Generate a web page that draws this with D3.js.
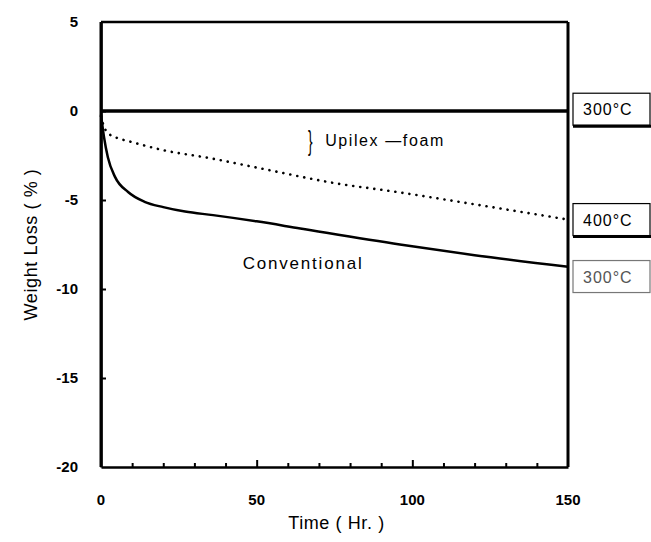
<!DOCTYPE html>
<html lang="en">
<head>
    <meta charset="UTF-8">
    <title>Weight Loss vs Time</title>
    <script src="https://cdn.jsdelivr.net/npm/d3@7/dist/d3.min.js"></script>
    <style>
        body{
            margin: 0;
            background: white;
            font-family: "Liberation Sans", Arial, sans-serif;
        }
        .tickLabel{
            font-size: 15px;
            font-weight: bold;
        }
        .axis path{
            stroke: black;
            stroke-width: 2.5;
        }
        .axis .tick line{
            stroke: black;
            stroke-width: 2;
        }
    </style>
</head>
<body>
<svg id="main" width="651" height="542"></svg>
<script>
    const width = 651, height = 542;
    const margin = {top: 22, bottom: 75, left: 101, right: 83};

    // data
    const xTicks = [0, 50, 100, 150];
    const yTicks = [5, 0, -5, -10, -15, -20];
    const upilex300Time = [0, 150];
    const upilex300Loss = [0, 0];
    const upilex400Time = [0, 1, 2, 5, 9, 20, 35, 52, 75, 95, 122, 150];
    const upilex400Loss = [-0.3, -0.9, -1.2, -1.5, -1.7, -2.2, -2.65, -3.25, -4.05, -4.55, -5.3, -6.1];
    const convTime = [0, 1, 2.2, 4.5, 8.7, 14, 20, 27, 36, 50, 64, 96, 120, 150];
    const convLoss = [-0.2, -1.5, -2.6, -3.7, -4.55, -5.1, -5.4, -5.65, -5.85, -6.2, -6.6, -7.5, -8.1, -8.75];
    const boxLabels = [
        {text: "300°C", y: 0.1},
        {text: "400°C", y: -6.1},
        {text: "300°C", y: -9.3}
    ];

    const svg = d3.select("svg#main");

    const xScale = d3.scaleLinear()
        .domain([0, 150])
        .range([margin.left, width - margin.right]);
    const yScale = d3.scaleLinear()
        .domain([-20, 5])
        .range([height - margin.bottom, margin.top]);

    // frame: top and right borders
    svg.append("line")
        .attr("x1", xScale(0)).attr("x2", xScale(150))
        .attr("y1", yScale(5)).attr("y2", yScale(5))
        .attr("stroke", "black").attr("stroke-width", 2.5);
    svg.append("line")
        .attr("x1", xScale(150)).attr("x2", xScale(150))
        .attr("y1", yScale(5)).attr("y2", yScale(-20))
        .attr("stroke", "black").attr("stroke-width", 3);

    // minor ticks inward along bottom
    const xAxis = d3.axisBottom(xScale)
        .tickValues(d3.range(10, 150, 10))
        .tickSizeInner(-4).tickSizeOuter(0)
        .tickFormat("");
    const xAxisGroup = svg.append("g")
        .attr("class", "axis")
        .attr("transform", `translate(0,${yScale(-20)})`)
        .call(xAxis);
    xAxisGroup.selectAll(".tick line")
        .attr("y2", d => (d % 50 === 0) ? -7 : -4);

    const yAxis = d3.axisLeft(yScale)
        .tickValues([0, -5, -10, -15])
        .tickSizeInner(-5).tickSizeOuter(0)
        .tickFormat("");
    svg.append("g")
        .attr("class", "axis")
        .attr("transform", `translate(${xScale(0)},0)`)
        .call(yAxis);

    // tick labels
    svg.selectAll(".xLabel")
        .data(xTicks)
        .join("text")
        .attr("class", "tickLabel")
        .attr("x", d => xScale(d))
        .attr("y", yScale(-20) + 38)
        .attr("text-anchor", "middle")
        .text(d => d);
    svg.selectAll(".yLabel")
        .data(yTicks)
        .join("text")
        .attr("class", "tickLabel")
        .attr("x", xScale(0) - 23)
        .attr("y", d => yScale(d) + 5)
        .attr("text-anchor", "end")
        .text(d => d);

    // axis titles
    svg.append("text")
        .attr("x", (xScale(0) + xScale(150)) / 2 + 2)
        .attr("y", height - 13)
        .attr("text-anchor", "middle")
        .attr("font-size", "18px")
        .attr("letter-spacing", "0.6px")
        .text("Time ( Hr. )");
    svg.append("text")
        .attr("transform", `translate(37,${yScale(-7.5)}) rotate(-90)`)
        .attr("text-anchor", "middle")
        .attr("font-size", "18px")
        .attr("letter-spacing", "0.6px")
        .text("Weight Loss ( % )");

    // curves
    const line = d3.line()
        .x(d => xScale(d[0]))
        .y(d => yScale(d[1]))
        .curve(d3.curveMonotoneX);

    svg.append("path")
        .datum(d3.zip(upilex300Time, upilex300Loss))
        .attr("fill", "none").attr("stroke", "black").attr("stroke-width", 3.5)
        .attr("d", line);
    svg.append("path")
        .datum(d3.zip(upilex400Time, upilex400Loss))
        .attr("fill", "none").attr("stroke", "black").attr("stroke-width", 2.6)
        .attr("stroke-dasharray", "0.1,7").attr("stroke-linecap", "round")
        .attr("d", line);
    svg.append("path")
        .datum(d3.zip(convTime, convLoss))
        .attr("fill", "none").attr("stroke", "black").attr("stroke-width", 2.5)
        .attr("d", line);

    // left axis line drawn on top
    svg.append("line")
        .attr("x1", xScale(0)).attr("x2", xScale(0))
        .attr("y1", yScale(5)).attr("y2", yScale(-20))
        .attr("stroke", "black").attr("stroke-width", 3);

    // annotations
    svg.append("text")
        .attr("transform", `translate(${xScale(66.5)},${yScale(-2.2)}) scale(0.8,1.6)`)
        .attr("font-size", "17px").attr("font-weight", "lighter")
        .text("}");
    svg.append("text")
        .attr("x", xScale(72)).attr("y", yScale(-2) - 1)
        .attr("font-size", "16px")
        .attr("letter-spacing", "1.6px")
        .text("Upilex \u2014foam");
    svg.append("text")
        .attr("x", xScale(45.5)).attr("y", yScale(-8.9))
        .attr("font-size", "17px")
        .attr("letter-spacing", "1.8px")
        .text("Conventional");

    // boxed labels on the right
    const boxX = xScale(150) + 5, boxW = 77, boxH = 32;
    const boxes = svg.selectAll(".boxLabel")
        .data(boxLabels)
        .join("g")
        .attr("class", "boxLabel")
        .attr("transform", d => `translate(${boxX},${yScale(d.y) - boxH / 2})`);
    boxes.append("rect")
        .attr("width", boxW).attr("height", boxH)
        .attr("fill", "white")
        .attr("stroke", (d, i) => i === 2 ? "#777" : "black")
        .attr("stroke-width", 1.2);
    boxes.filter((d, i) => i < 2).append("line")
        .attr("x1", 0).attr("x2", boxW + 5)
        .attr("y1", boxH + 1).attr("y2", boxH + 1)
        .attr("stroke", "black").attr("stroke-width", 3);
    boxes.append("text")
        .attr("x", 10).attr("y", boxH / 2 + 6)
        .attr("font-size", "16px")
        .attr("letter-spacing", "1px")
        .attr("fill", (d, i) => i === 2 ? "#555" : "black")
        .text(d => d.text);
</script>
</body>
</html>
